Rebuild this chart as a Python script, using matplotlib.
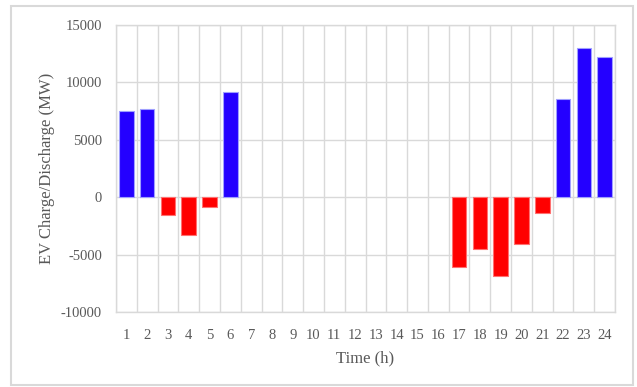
import matplotlib
matplotlib.use("Agg")
import matplotlib.pyplot as plt
from matplotlib.patches import Rectangle
import numpy as np

hours = list(range(1, 25))
ev_power = [7550, 7700, -1530, -3270, -870, 9150, 0, 0, 0, 0, 0, 0,
            0, 0, 0, 0, -6050, -4520, -6840, -4090, -1330, 8520, 12960, 12230]
y_ticks = [-10000, -5000, 0, 5000, 10000, 15000]

charge_color = "#2400FF"
charge_edge = "#9F9FFF"
discharge_color = "#FF0000"
discharge_edge = "#FF7070"
grid_color = "#D9D9D9"
text_color = "#595959"

plt.rcParams["font.family"] = ["Liberation Serif", "DejaVu Serif"]

fig = plt.figure(figsize=(6.37, 3.87), dpi=100)
ax = fig.add_axes([116 / 637, 1 - 312.3 / 387, (615 - 116) / 637, (312.3 - 25) / 387])

# outer chart border
fig.patches.append(Rectangle((11 / 637, 1 - 385 / 387), (633 - 11) / 637, (385 - 6) / 387,
                             transform=fig.transFigure, fill=False,
                             edgecolor=grid_color, linewidth=1.5, zorder=0))

colors = [charge_color if v >= 0 else discharge_color for v in ev_power]
edges = [("none" if v == 0 else charge_edge if v > 0 else discharge_edge) for v in ev_power]
ax.bar(hours, ev_power, width=0.7, color=colors, edgecolor=edges, linewidth=0.8, zorder=3)

ax.set_xlim(0.5, 24.5)
ax.set_ylim(-10000, 15000)
ax.set_yticks(y_ticks)
ax.set_yticklabels([str(t) for t in y_ticks])
ax.set_xticks(hours)
ax.set_xticklabels([str(h) for h in hours])
ax.set_xticks(np.arange(0.5, 25, 1), minor=True)

ax.grid(axis="y", which="major", color=grid_color, linewidth=1.0, zorder=0)
ax.grid(axis="x", which="minor", color=grid_color, linewidth=1.0, zorder=0)
ax.grid(axis="x", which="major", visible=False)

for s in ax.spines.values():
    s.set_color(grid_color)
    s.set_linewidth(1.0)

ax.tick_params(axis="both", which="both", length=0, labelsize=10.5, labelcolor=text_color)
ax.tick_params(axis="x", pad=12)
ax.tick_params(axis="y", pad=10)

ax.set_xlabel("Time (h)", fontsize=12, color=text_color, labelpad=6)
ax.set_ylabel("EV Charge/Discharge (MW)", fontsize=12, color=text_color, labelpad=4)

fig.savefig("out.png", dpi=100)
